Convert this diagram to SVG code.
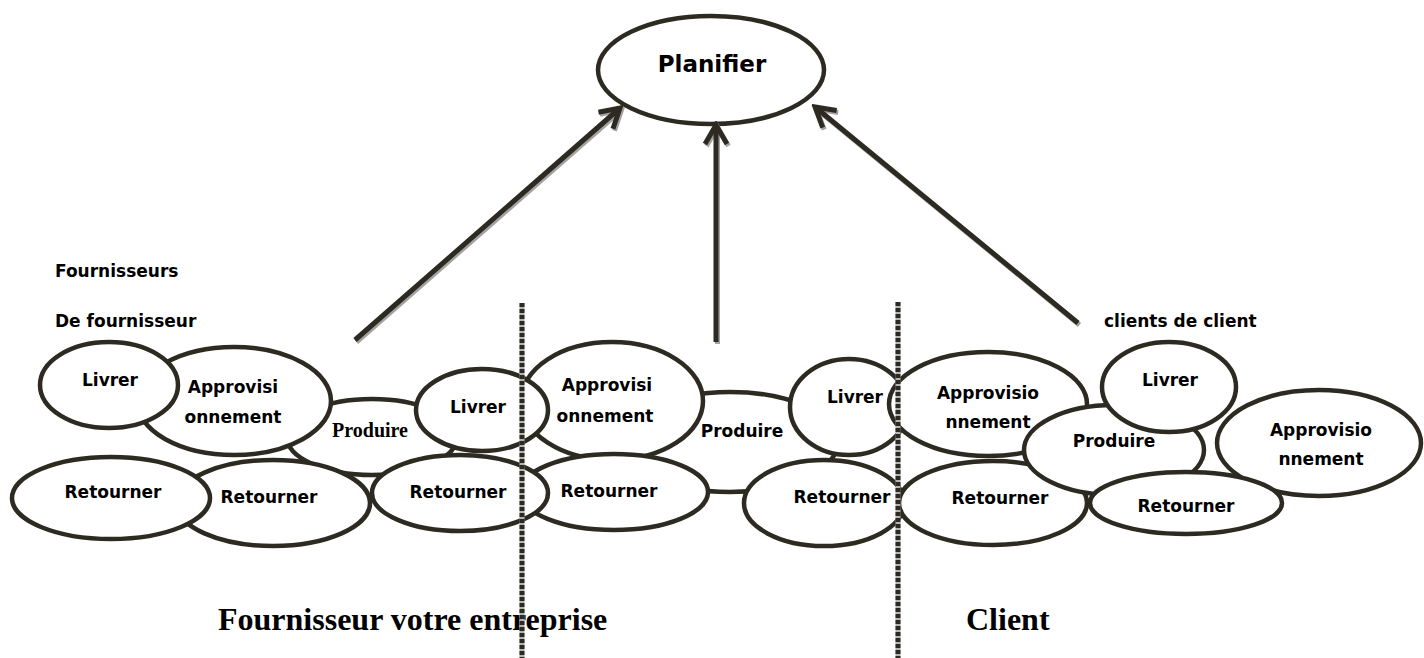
<svg xmlns="http://www.w3.org/2000/svg" width="1424" height="658" viewBox="0 0 1424 658">
  <style>
    .shape { fill: #ffffff; stroke: #2d2a21; stroke-width: 4.5; }
    .lbl { font-family: "DejaVu Sans", "Liberation Sans", sans-serif; font-weight: bold; font-size: 17px; fill: #000000; text-anchor: middle; }
    .lbl-serif { font-family: "Liberation Serif", "Times New Roman", serif; font-weight: bold; font-size: 20px; fill: #000000; text-anchor: middle; }
    .title { font-family: "DejaVu Sans", "Liberation Sans", sans-serif; font-weight: bold; font-size: 23px; fill: #000000; text-anchor: middle; }
    .side { font-family: "DejaVu Sans", "Liberation Sans", sans-serif; font-weight: bold; font-size: 17px; fill: #000000; }
    .zone { font-family: "Liberation Serif", "Times New Roman", serif; font-weight: bold; font-size: 32px; fill: #000000; }
    .link { stroke: #2d2a21; stroke-width: 5; fill: none; marker-end: url(#chevron); }
    .link-shadow { stroke: #a3a3a3; stroke-width: 5; fill: none; marker-end: url(#chevron-shadow); }
    .divider-base { stroke: #b4b4b4; stroke-width: 5; }
    .divider { stroke: #2d2a21; stroke-width: 5; stroke-dasharray: 4 2; }
  </style>
  <defs>
    <marker id="chevron" markerUnits="userSpaceOnUse" viewBox="-26 -16 30 32" markerWidth="30" markerHeight="32" refX="0" refY="0" orient="auto">
      <path d="M-19,-11 L0,0 L-19,11" fill="none" stroke="#2d2a21" stroke-width="5" stroke-linejoin="miter"/>
    </marker>
    <marker id="chevron-shadow" markerUnits="userSpaceOnUse" viewBox="-26 -16 30 32" markerWidth="30" markerHeight="32" refX="0" refY="0" orient="auto">
      <path d="M-19,-11 L0,0 L-19,11" fill="none" stroke="#a3a3a3" stroke-width="5" stroke-linejoin="miter"/>
    </marker>
  </defs>

  <rect x="0" y="0" width="1424" height="658" fill="#ffffff"/>

  <!-- top process -->
  <g id="planifier">
    <ellipse class="shape" cx="711" cy="70" rx="113" ry="54"/>
    <text class="title" x="712" y="72">Planifier</text>
  </g>

  <!-- middle cluster (back layers) -->
  <g id="produire-entreprise">
    <ellipse class="shape" cx="730" cy="442" rx="108" ry="50"/>
    <text class="lbl" x="742" y="437">Produire</text>
  </g>
  <g id="approvisionnement-entreprise">
    <ellipse class="shape" cx="612" cy="401" rx="91" ry="59"/>
    <text class="lbl" x="607" y="391">Approvisi</text>
    <text class="lbl" x="605" y="422">onnement</text>
  </g>
  <g id="retourner-entreprise-1">
    <ellipse class="shape" cx="614" cy="492" rx="94" ry="38"/>
    <text class="lbl" x="609" y="497">Retourner</text>
  </g>

  <!-- supplier cluster -->
  <g id="produire-fournisseur">
    <ellipse class="shape" cx="372" cy="437" rx="85" ry="38"/>
    <text class="lbl-serif" x="370" y="437">Produire</text>
  </g>
  <g id="approvisionnement-fournisseur">
    <ellipse class="shape" cx="234" cy="401" rx="97" ry="54"/>
    <text class="lbl" x="233" y="393">Approvisi</text>
    <text class="lbl" x="233" y="423">onnement</text>
  </g>
  <g id="livrer-fournisseur-amont">
    <ellipse class="shape" cx="109" cy="385" rx="69" ry="43"/>
    <text class="lbl" x="110" y="386">Livrer</text>
  </g>
  <g id="retourner-fournisseur-3">
    <ellipse class="shape" cx="460" cy="493" rx="88" ry="38"/>
    <text class="lbl" x="458" y="498">Retourner</text>
  </g>
  <g id="retourner-fournisseur-2">
    <ellipse class="shape" cx="273" cy="503" rx="97" ry="43"/>
    <text class="lbl" x="269" y="503">Retourner</text>
  </g>
  <g id="retourner-fournisseur-1">
    <ellipse class="shape" cx="111" cy="498" rx="99" ry="41"/>
    <text class="lbl" x="113" y="498">Retourner</text>
  </g>
  <g id="livrer-fournisseur">
    <ellipse class="shape" cx="482" cy="410" rx="66" ry="41"/>
    <text class="lbl" x="478" y="413">Livrer</text>
  </g>

  <!-- company cluster (front layers) -->
  <g id="livrer-entreprise">
    <ellipse class="shape" cx="849" cy="407" rx="59" ry="48"/>
    <text class="lbl" x="855" y="403">Livrer</text>
  </g>
  <g id="retourner-entreprise-2">
    <ellipse class="shape" cx="824" cy="503" rx="80" ry="43"/>
    <text class="lbl" x="842" y="503">Retourner</text>
  </g>

  <!-- customer cluster -->
  <g id="approvisionnement-client-aval">
    <ellipse class="shape" cx="1319" cy="443" rx="102" ry="53"/>
    <text class="lbl" x="1321" y="436">Approvisio</text>
    <text class="lbl" x="1321" y="465">nnement</text>
  </g>
  <g id="approvisionnement-client">
    <ellipse class="shape" cx="988" cy="404" rx="99" ry="52"/>
    <text class="lbl" x="988" y="399">Approvisio</text>
    <text class="lbl" x="988" y="428">nnement</text>
  </g>
  <g id="retourner-client-1">
    <ellipse class="shape" cx="993" cy="503" rx="94" ry="42"/>
    <text class="lbl" x="1000" y="504">Retourner</text>
  </g>
  <g id="produire-client">
    <ellipse class="shape" cx="1114" cy="450" rx="90" ry="45"/>
    <text class="lbl" x="1114" y="447">Produire</text>
  </g>
  <g id="livrer-client">
    <ellipse class="shape" cx="1169" cy="387" rx="67" ry="45"/>
    <text class="lbl" x="1170" y="386">Livrer</text>
  </g>
  <g id="retourner-client-2">
    <ellipse class="shape" cx="1186" cy="503" rx="96" ry="31"/>
    <text class="lbl" x="1186" y="512">Retourner</text>
  </g>

  <!-- side captions -->
  <g id="captions">
    <text class="side" x="55" y="277">Fournisseurs</text>
    <text class="side" x="55" y="327">De fournisseur</text>
    <text class="side" x="1104" y="327">clients de client</text>
    <text class="zone" x="218" y="630">Fournisseur votre entreprise</text>
    <text class="zone" x="966" y="630">Client</text>
  </g>

  <!-- arrows up to Planifier -->
  <g id="connectors">
    <g transform="translate(1.5,2)">
      <line class="link-shadow" x1="355" y1="340" x2="620" y2="108"/>
      <line class="link-shadow" x1="716" y1="342" x2="716" y2="125"/>
      <line class="link-shadow" x1="1078" y1="323" x2="815" y2="107"/>
    </g>
    <line class="link" x1="355" y1="340" x2="620" y2="108"/>
    <line class="link" x1="716" y1="342" x2="716" y2="125"/>
    <line class="link" x1="1078" y1="323" x2="815" y2="107"/>
  </g>

  <!-- zone dividers -->
  <g id="dividers">
    <line class="divider-base" x1="522" y1="303" x2="522" y2="658"/>
    <line class="divider" x1="522" y1="303" x2="522" y2="658"/>
    <line class="divider-base" x1="898" y1="302" x2="898" y2="658"/>
    <line class="divider" x1="898" y1="302" x2="898" y2="658"/>
  </g>
</svg>
